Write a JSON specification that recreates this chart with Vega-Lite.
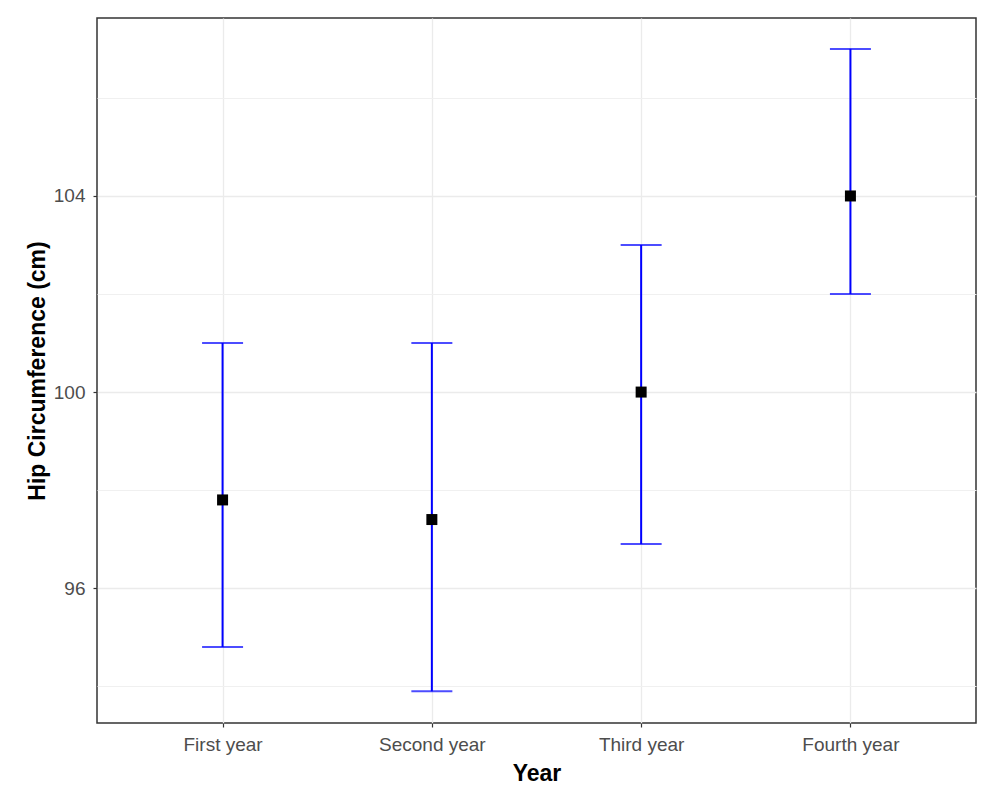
{
  "$schema": "https://vega.github.io/schema/vega-lite/v6.json",
  "width": 879,
  "height": 705,
  "autosize": {"type": "none"},
  "padding": {"left": 97, "top": 18, "right": 6, "bottom": 75},
  "background": "white",
  "data": {
    "values": [
      {"year": "First year", "mean": 97.8, "lower": 94.8, "upper": 101.0},
      {"year": "Second year", "mean": 97.4, "lower": 93.9, "upper": 101.0},
      {"year": "Third year", "mean": 100.0, "lower": 96.9, "upper": 103.0},
      {"year": "Fourth year", "mean": 104.0, "lower": 102.0, "upper": 107.0}
    ]
  },
  "encoding": {
    "x": {
      "field": "year",
      "type": "nominal",
      "sort": ["First year", "Second year", "Third year", "Fourth year"],
      "scale": {"type": "point", "padding": 0.6},
      "title": "Year",
      "axis": {
        "labelAngle": 0,
        "labelFont": "Liberation Sans",
        "labelFontSize": 19,
        "labelColor": "#4D4D4D",
        "labelPadding": 8,
        "tickColor": "#333333",
        "tickSize": 4,
        "tickWidth": 1.2,
        "domain": false,
        "grid": true,
        "gridColor": "#EBEBEB",
        "gridWidth": 1.3,
        "titleFont": "Liberation Sans",
        "titleFontSize": 23,
        "titleFontWeight": "bold",
        "titleColor": "#000000",
        "titlePadding": 8
      }
    }
  },
  "layer": [
    {
      "mark": {"type": "rule", "color": "#0000FF", "strokeWidth": 2},
      "encoding": {
        "y": {
          "field": "lower",
          "type": "quantitative",
          "scale": {"domain": [93.25, 107.63], "nice": false, "zero": false},
          "title": "Hip Circumference (cm)",
          "axis": {
            "values": [94, 96, 98, 100, 102, 104, 106],
            "labelExpr": "datum.value % 4 === 0 ? datum.label : ''",
            "tickOpacity": {"condition": {"test": "datum.value % 4 === 0", "value": 1}, "value": 0},
            "gridWidth": {"condition": {"test": "datum.value % 4 === 0", "value": 1.3}, "value": 1.0},
            "gridColor": {"condition": {"test": "datum.value % 4 === 0", "value": "#EBEBEB"}, "value": "#F0F0F0"},
            "labelFont": "Liberation Sans",
            "labelFontSize": 19,
            "labelColor": "#4D4D4D",
            "labelPadding": 8,
            "tickColor": "#333333",
            "tickSize": 4,
            "tickWidth": 1.2,
            "domain": false,
            "grid": true,
            "titleFont": "Liberation Sans",
            "titleFontSize": 23,
            "titleFontWeight": "bold",
            "titleColor": "#000000",
            "titlePadding": 4
          }
        },
        "y2": {"field": "upper"}
      }
    },
    {
      "mark": {"type": "tick", "color": "#0000FF", "size": 41, "thickness": 2, "orient": "horizontal"},
      "encoding": {"y": {"field": "lower", "type": "quantitative"}}
    },
    {
      "mark": {"type": "tick", "color": "#0000FF", "size": 41, "thickness": 2, "orient": "horizontal"},
      "encoding": {"y": {"field": "upper", "type": "quantitative"}}
    },
    {
      "mark": {"type": "point", "shape": "square", "filled": true, "color": "#000000", "size": 121, "opacity": 1},
      "encoding": {"y": {"field": "mean", "type": "quantitative"}}
    }
  ],
  "config": {
    "view": {"stroke": "#333333", "strokeWidth": 1.5}
  }
}
